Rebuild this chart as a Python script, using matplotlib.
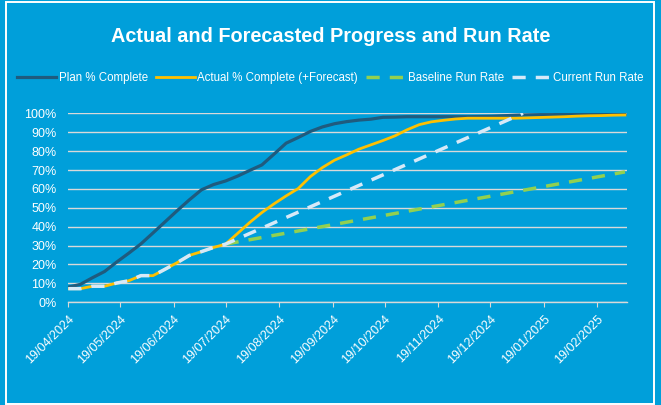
import pandas as pd
import matplotlib
matplotlib.use("Agg")
import matplotlib.pyplot as plt
import matplotlib.dates as mdates
from matplotlib.patches import Rectangle
from matplotlib.ticker import FuncFormatter

plt.rcParams['font.family'] = ['Liberation Sans', 'DejaVu Sans']

# weekly snapshots (Fridays)
week_dates = pd.date_range("2024-04-19", periods=47, freq="7D")

plan_pct = [8.0, 9.5, 13.0, 16.3, 21.3, 26.0, 30.9, 36.7, 42.6, 48.5,
            54.2, 59.5, 62.3, 64.2, 66.8, 69.8, 72.7, 78.4, 84.2, 87.2,
            90.4, 92.8, 94.5, 95.6, 96.4, 96.9, 97.9, 98.0, 98.2, 98.2,
            98.2, 98.2, 98.2, 98.2, 98.3, 98.4, 98.7, 99.0, 99.2, 99.3,
            99.3, 99.4, 99.4, 99.4, 99.5, 99.5, 99.5]

actual_pct = [7.2, 7.2, 8.5, 8.5, 10.2, 11.4, 14.1, 14.1, 17.5, 21.0,
              24.8, 26.8, 29.0, 30.8, 36.5, 42.3, 47.5, 52.1, 56.3, 60.2,
              66.5, 71.3, 75.2, 78.0, 81.0, 83.3, 85.6, 88.1, 91.3, 94.0,
              95.5, 96.3, 97.0, 97.4, 97.4, 97.4, 97.4, 97.4, 97.6, 97.8,
              98.0, 98.2, 98.5, 98.7, 98.8, 99.0, 99.1]

# run rates projected from last actual (19/07/2024)
n_actual = 14
baseline_end = ("2025-03-07", 69.0)
current_end = ("2025-01-07", 100.0)

tick_dates = pd.date_range("2024-04-19", "2025-02-19", freq=pd.DateOffset(months=1))

bg = '#009FDA'
plan_col = '#1F5B7E'
actual_col = '#FFC000'
base_col = '#92D050'
cur_col = '#D6E9F8'
grid_col = '#D9D9D9'

fig = plt.figure(figsize=(6.61, 4.05), dpi=100, facecolor=bg)
ax = fig.add_axes([0.1033, 0.2536, 0.8448, 0.4666])
ax.set_facecolor(bg)

# white frame around the chart
fig.patches.append(Rectangle((6 / 661, 1.5 / 405), 647.5 / 661, 402 / 405,
                             transform=fig.transFigure, fill=False,
                             edgecolor='white', linewidth=1.4))

# baseline & current run rate series
base_x = [week_dates[n_actual - 1], pd.Timestamp(baseline_end[0])]
base_y = [actual_pct[n_actual - 1], baseline_end[1]]
cur_x = list(week_dates[:n_actual]) + [pd.Timestamp(current_end[0])]
cur_y = actual_pct[:n_actual] + [current_end[1]]

ax.plot(week_dates, plan_pct, color=plan_col, lw=2.3, label='Plan % Complete', zorder=3)
ax.plot(week_dates, actual_pct, color=actual_col, lw=2.0,
        label='Actual % Complete (+Forecast)', zorder=4)
ax.plot(base_x, base_y, color=base_col, lw=2.5, dashes=(3.8, 2.9),
        label='Baseline Run Rate', zorder=3)
ax.plot(cur_x, cur_y, color=cur_col, lw=2.5, dashes=(3.8, 2.9),
        label='Current Run Rate', zorder=5)

ax.set_ylim(0, 100)
ax.set_yticks(range(0, 101, 10))
ax.yaxis.set_major_formatter(FuncFormatter(lambda v, p: f"{int(v)}%"))
ax.grid(axis='y', color=grid_col, lw=1.0)
ax.set_axisbelow(True)

ax.set_xlim(pd.Timestamp("2024-04-19"), pd.Timestamp("2025-03-08"))
ax.set_xticks(tick_dates)
ax.xaxis.set_major_formatter(mdates.DateFormatter('%d/%m/%Y'))

for s in ['top', 'right', 'left']:
    ax.spines[s].set_visible(False)
ax.spines['bottom'].set_color(grid_col)
ax.spines['bottom'].set_linewidth(1.0)

ax.tick_params(axis='y', length=0, labelsize=9, labelcolor='white', pad=8.4)
ax.tick_params(axis='x', length=3.5, color=grid_col, labelsize=9,
               labelcolor='white', pad=4)
for lab in ax.get_xticklabels():
    lab.set_rotation(45)
    lab.set_ha('right')
    lab.set_va('top')
    lab.set_rotation_mode('anchor')

fig.text(0.5, (405 - 37) / 405, 'Actual and Forecasted Progress and Run Rate',
         ha='center', va='center', color='white', fontsize=14.3, fontweight='bold')

leg = ax.legend(loc='center', bbox_to_anchor=(0.5, (405 - 78) / 405),
                bbox_transform=fig.transFigure, ncol=4, frameon=False,
                fontsize=8.3, handlelength=3.4, handletextpad=0.2,
                columnspacing=0.7, borderpad=0)
for t in leg.get_texts():
    t.set_color('white')

fig.savefig('out.png', dpi=100, facecolor=bg)
